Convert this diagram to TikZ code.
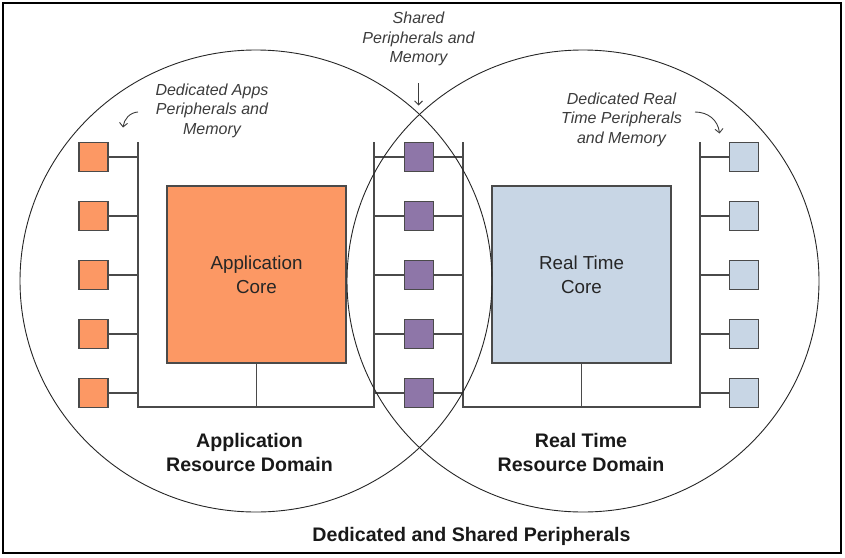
\documentclass[tikz,border=0pt]{standalone}
\usepackage{fontspec}
\setmainfont{Liberation Sans}
\usetikzlibrary{arrows.meta}
\definecolor{appor}{HTML}{FC9864}
\definecolor{shpur}{HTML}{8E76A8}
\definecolor{rtblue}{HTML}{C8D6E5}
\definecolor{edge}{HTML}{4A4A4A}
\definecolor{note}{HTML}{3C3C3C}
\begin{document}
\begin{tikzpicture}[x=1pt,y=-1pt,
  frameline/.style={draw=black,line width=1.6pt},
  bus/.style={draw=edge,line width=1.2pt},
  ring/.style={draw=black!85,line width=0.9pt},
  periph/.style={draw=edge,line width=1.3pt,minimum size=29pt,inner sep=0pt},
  corebox/.style={draw=edge,line width=1.3pt,minimum width=179pt,minimum height=177pt,inner sep=0pt,align=center,font=\fontsize{18.8}{24}\selectfont,text=black!85},
  notetext/.style={align=center,font=\fontsize{16}{19.5}\selectfont\itshape,text=note,inner sep=0pt},
  domtext/.style={align=center,font=\fontsize{19.6}{24}\selectfont\bfseries,text=black!90,inner sep=0pt},
  notearrow/.style={draw=note,line width=0.9pt,-{Straight Barb[length=4pt,width=8pt]}}
]
\useasboundingbox (0,0) rectangle (845,557);
\draw[frameline] (3,3) rectangle (841,553);

% buses
\coordinate (lbT) at (138,142);
\coordinate (lbB) at (138,407);
\coordinate (slT) at (374,142);
\coordinate (slB) at (374,407);
\coordinate (srT) at (463,142);
\coordinate (srB) at (463,407);
\coordinate (rbT) at (700,142);
\coordinate (rbB) at (700,407);
\draw[bus] (lbT) -- (lbB) -- (slB) -- (slT);
\draw[bus] (srT) -- (srB) -- (rbB) -- (rbT);

% cores
\node[corebox,fill=appor] (ac) at (256.5,274.5) {Application\\Core};
\node[corebox,fill=rtblue] (rc) at (581.5,274.5) {Real Time\\Core};
\draw[bus] (ac.south) -- (ac.south |- lbB);
\draw[bus] (rc.south) -- (rc.south |- rbB);

% peripherals
\foreach \i/\y in {1/157,2/216,3/275,4/334,5/393}{
  \node[periph,fill=appor] (a\i) at (93.5,\y) {};
  \node[periph,fill=shpur] (s\i) at (419,\y) {};
  \node[periph,fill=rtblue] (r\i) at (744,\y) {};
  \draw[bus] (a\i.east) -- (a\i.east -| lbT);
  \draw[bus] (s\i.west -| slT) -- (s\i.west);
  \draw[bus] (s\i.east) -- (s\i.east -| srT);
  \draw[bus] (r\i.west -| rbT) -- (r\i.west);
}

% resource domain circles
\draw[ring] (256,281) ellipse [x radius=236pt,y radius=231pt];
\draw[ring] (583,281) ellipse [x radius=236pt,y radius=231pt];

% notes
\node[notetext] (nApp) at (212,110.6) {Dedicated Apps\\Peripherals and\\Memory};
\node[notetext] (nSh) at (418.5,38.9) {Shared\\Peripherals and\\Memory};
\node[notetext] (nRt) at (621.5,119.6) {Dedicated Real\\Time Peripherals\\and Memory};

\coordinate (arLs) at (138,112);
\coordinate (arLe) at (123,127.5);
\coordinate (arSs) at (418.5,83);
\coordinate (arSe) at (418.5,105.5);
\coordinate (arRs) at (695,112);
\coordinate (arRe) at (719.5,133.5);
\draw[notearrow] (arLs) .. controls (130,112.5) and (124,119) .. (arLe);
\draw[notearrow] (arSs) -- (arSe);
\draw[notearrow] (arRs) .. controls (708,112) and (718,120) .. (arRe);

% domain labels
\node[domtext] (dApp) at (249.5,452) {Application\\Resource Domain};
\node[domtext] (dRt) at (581,452) {Real Time\\Resource Domain};
\node[domtext,anchor=base] (title) at (471.5,541) {Dedicated and Shared Peripherals};
\end{tikzpicture}
\end{document}
